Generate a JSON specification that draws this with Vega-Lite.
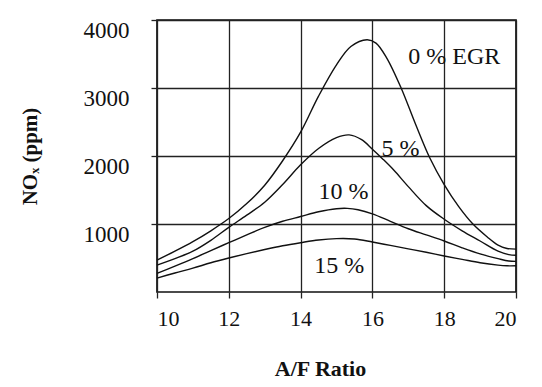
{
  "$schema": "https://vega.github.io/schema/vega-lite/v6.json",
  "width": 359,
  "height": 272,
  "autosize": {"type": "none"},
  "padding": {"left": 157, "top": 20, "right": 26, "bottom": 95},
  "background": "white",
  "config": {
    "view": {"stroke": "#111111", "strokeWidth": 1.7},
    "font": "Liberation Serif"
  },
  "datasets": {
    "curves": [
      {"EGR": "0%", "A": 10, "NOx": 470}, {"EGR": "0%", "A": 10.5, "NOx": 600}, {"EGR": "0%", "A": 11, "NOx": 740},
      {"EGR": "0%", "A": 11.5, "NOx": 900}, {"EGR": "0%", "A": 12, "NOx": 1080}, {"EGR": "0%", "A": 12.5, "NOx": 1300},
      {"EGR": "0%", "A": 13, "NOx": 1570}, {"EGR": "0%", "A": 13.5, "NOx": 1930},
      {"EGR": "0%", "A": 14, "NOx": 2350}, {"EGR": "0%", "A": 14.5, "NOx": 2880}, {"EGR": "0%", "A": 15, "NOx": 3340},
      {"EGR": "0%", "A": 15.4, "NOx": 3610}, {"EGR": "0%", "A": 15.85, "NOx": 3710}, {"EGR": "0%", "A": 16.1, "NOx": 3660},
      {"EGR": "0%", "A": 16.4, "NOx": 3440}, {"EGR": "0%", "A": 16.8, "NOx": 3000}, {"EGR": "0%", "A": 17.2, "NOx": 2470},
      {"EGR": "0%", "A": 17.6, "NOx": 1970}, {"EGR": "0%", "A": 18, "NOx": 1580}, {"EGR": "0%", "A": 18.4, "NOx": 1260},
      {"EGR": "0%", "A": 18.8, "NOx": 1000}, {"EGR": "0%", "A": 19.2, "NOx": 810}, {"EGR": "0%", "A": 19.5, "NOx": 690},
      {"EGR": "0%", "A": 19.75, "NOx": 640}, {"EGR": "0%", "A": 20, "NOx": 630},

      {"EGR": "5%", "A": 10, "NOx": 395}, {"EGR": "5%", "A": 10.5, "NOx": 490}, {"EGR": "5%", "A": 11, "NOx": 600},
      {"EGR": "5%", "A": 11.5, "NOx": 760}, {"EGR": "5%", "A": 12, "NOx": 950}, {"EGR": "5%", "A": 12.5, "NOx": 1130},
      {"EGR": "5%", "A": 13, "NOx": 1320}, {"EGR": "5%", "A": 13.5, "NOx": 1580}, {"EGR": "5%", "A": 14, "NOx": 1870},
      {"EGR": "5%", "A": 14.5, "NOx": 2110}, {"EGR": "5%", "A": 15, "NOx": 2270}, {"EGR": "5%", "A": 15.35, "NOx": 2310},
      {"EGR": "5%", "A": 15.7, "NOx": 2240}, {"EGR": "5%", "A": 16, "NOx": 2100}, {"EGR": "5%", "A": 16.3, "NOx": 1950},
      {"EGR": "5%", "A": 16.6, "NOx": 1790}, {"EGR": "5%", "A": 17, "NOx": 1550}, {"EGR": "5%", "A": 17.5, "NOx": 1270},
      {"EGR": "5%", "A": 18, "NOx": 1070}, {"EGR": "5%", "A": 18.5, "NOx": 900}, {"EGR": "5%", "A": 19, "NOx": 750},
      {"EGR": "5%", "A": 19.5, "NOx": 600}, {"EGR": "5%", "A": 19.8, "NOx": 550}, {"EGR": "5%", "A": 20, "NOx": 540},

      {"EGR": "10%", "A": 10, "NOx": 275}, {"EGR": "10%", "A": 10.5, "NOx": 380}, {"EGR": "10%", "A": 11, "NOx": 490},
      {"EGR": "10%", "A": 11.5, "NOx": 610}, {"EGR": "10%", "A": 12, "NOx": 725}, {"EGR": "10%", "A": 12.5, "NOx": 840},
      {"EGR": "10%", "A": 13, "NOx": 950}, {"EGR": "10%", "A": 13.5, "NOx": 1040}, {"EGR": "10%", "A": 14, "NOx": 1110},
      {"EGR": "10%", "A": 14.5, "NOx": 1180}, {"EGR": "10%", "A": 15, "NOx": 1225}, {"EGR": "10%", "A": 15.3, "NOx": 1230},
      {"EGR": "10%", "A": 15.6, "NOx": 1210}, {"EGR": "10%", "A": 16, "NOx": 1150}, {"EGR": "10%", "A": 16.5, "NOx": 1040},
      {"EGR": "10%", "A": 17, "NOx": 930}, {"EGR": "10%", "A": 17.5, "NOx": 840}, {"EGR": "10%", "A": 18, "NOx": 750},
      {"EGR": "10%", "A": 18.5, "NOx": 650}, {"EGR": "10%", "A": 19, "NOx": 560}, {"EGR": "10%", "A": 19.5, "NOx": 490},
      {"EGR": "10%", "A": 19.8, "NOx": 455}, {"EGR": "10%", "A": 20, "NOx": 450},

      {"EGR": "15%", "A": 10, "NOx": 205}, {"EGR": "15%", "A": 10.5, "NOx": 280}, {"EGR": "15%", "A": 11, "NOx": 350},
      {"EGR": "15%", "A": 11.5, "NOx": 430}, {"EGR": "15%", "A": 12, "NOx": 500}, {"EGR": "15%", "A": 12.5, "NOx": 565},
      {"EGR": "15%", "A": 13, "NOx": 625}, {"EGR": "15%", "A": 13.5, "NOx": 680}, {"EGR": "15%", "A": 14, "NOx": 725},
      {"EGR": "15%", "A": 14.5, "NOx": 765}, {"EGR": "15%", "A": 15, "NOx": 785}, {"EGR": "15%", "A": 15.5, "NOx": 780},
      {"EGR": "15%", "A": 16, "NOx": 735}, {"EGR": "15%", "A": 16.5, "NOx": 685}, {"EGR": "15%", "A": 17, "NOx": 635},
      {"EGR": "15%", "A": 17.5, "NOx": 585}, {"EGR": "15%", "A": 18, "NOx": 530}, {"EGR": "15%", "A": 18.5, "NOx": 480},
      {"EGR": "15%", "A": 19, "NOx": 430}, {"EGR": "15%", "A": 19.5, "NOx": 395}, {"EGR": "15%", "A": 19.75, "NOx": 385},
      {"EGR": "15%", "A": 20, "NOx": 385}
    ],
    "labels": [
      {"A": 17.0, "NOx": 3450, "label": "0 % EGR"},
      {"A": 16.25, "NOx": 2100, "label": "5 %"},
      {"A": 14.5, "NOx": 1470, "label": "10 %"},
      {"A": 14.38, "NOx": 385, "label": "15 %"}
    ]
  },
  "encoding": {
    "x": {
      "field": "A", "type": "quantitative",
      "scale": {"domain": [10, 20], "nice": false, "zero": false},
      "axis": {
        "title": "A/F Ratio", "values": [10, 12, 14, 16, 18, 20],
        "domain": false, "grid": true, "gridColor": "#222222", "gridWidth": 1.3, "gridOpacity": 1,
        "ticks": true, "tickSize": 6, "tickColor": "#222222", "tickWidth": 1.3,
        "labelFont": "Liberation Serif", "labelFontSize": 22, "labelColor": "#111111", "labelPadding": 10,
        "titleFont": "'Liberation Serif', 'DejaVu Serif', serif", "titleFontSize": 22, "titleFontWeight": "bold", "titleColor": "#111111",
        "titlePadding": 29, "titleX": 163
      }
    },
    "y": {
      "field": "NOx", "type": "quantitative",
      "scale": {"domain": [0, 4000], "nice": false},
      "axis": {
        "title": "NOₓ (ppm)", "values": [1000, 2000, 3000, 4000], "format": "d",
        "domain": false, "grid": true, "gridColor": "#222222", "gridWidth": 1.3, "gridOpacity": 1,
        "ticks": true, "tickSize": 6, "tickColor": "#222222", "tickWidth": 1.3,
        "labelFont": "Liberation Serif", "labelFontSize": 23, "labelColor": "#111111", "labelPadding": 22,
        "labelOffset": 10,
        "titleFont": "'Liberation Serif', 'DejaVu Serif', serif", "titleFontSize": 21, "titleFontWeight": "bold", "titleColor": "#111111",
        "titlePadding": 43
      }
    }
  },
  "layer": [
    {
      "data": {"name": "curves"},
      "mark": {"type": "line", "interpolate": "catmull-rom", "color": "#111111", "strokeWidth": 1.4},
      "encoding": {"detail": {"field": "EGR", "type": "nominal"}}
    },
    {
      "data": {"name": "labels"},
      "mark": {"type": "text", "align": "left", "baseline": "middle", "font": "Liberation Serif", "fontSize": 24, "color": "#111111"},
      "encoding": {"text": {"field": "label", "type": "nominal"}}
    }
  ]
}
